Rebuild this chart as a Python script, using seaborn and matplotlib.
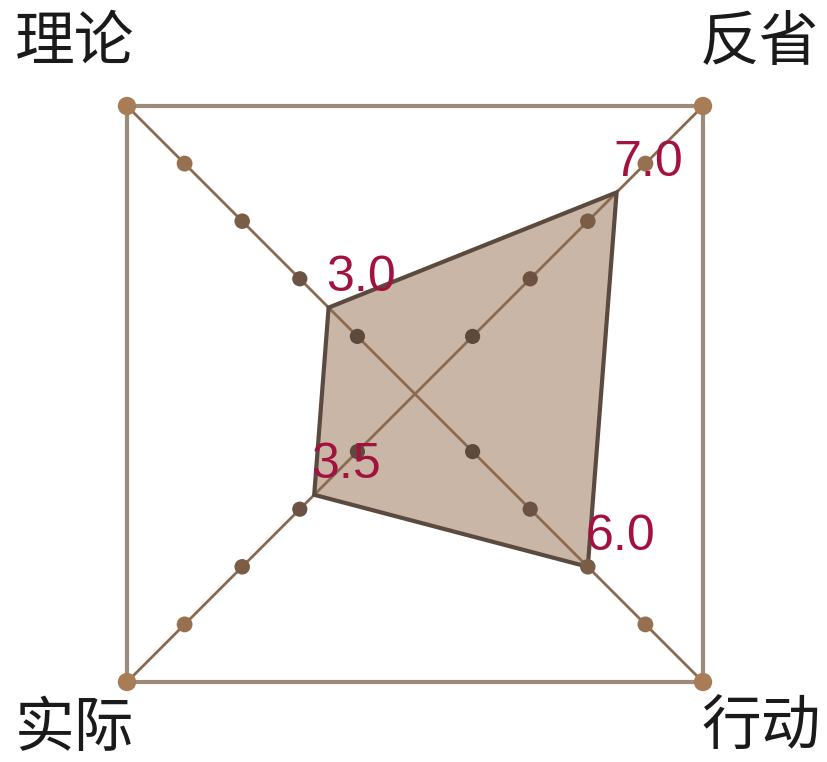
import numpy as np
import pandas as pd
import seaborn as sns
import matplotlib.pyplot as plt

# chart data
categories = ['理论', '反省', '行动', '实际']
values = [3.0, 7.0, 6.0, 3.5]
value_labels = ['3.0', '7.0', '6.0', '3.5']
angles_deg = [135, 45, -45, -135]
tick_levels = [2, 4, 6, 8, 10]

sns.set_theme(style='white')
plt.rcParams['font.family'] = ['Noto Sans CJK SC', 'DejaVu Sans']

theta = np.deg2rad(angles_deg)
max_level = tick_levels[-1]


def to_xy(r, t):
    return r * np.cos(t), r * np.sin(t)


fig = plt.figure(figsize=(8.27, 7.62), dpi=100)
ax = fig.add_axes([0, 0, 1, 1])

# outer square frame
cx, cy = to_xy(max_level, theta)
ax.plot(np.append(cx, cx[0]), np.append(cy, cy[0]), color='#9c8b7b', lw=3, zorder=1,
        solid_capstyle='butt')

# data polygon fill
px, py = to_xy(np.array(values), theta)
ax.fill(px, py, facecolor='#cab6a6', edgecolor='none', zorder=1.5)

# diagonal axes
ax.plot([cx[0], cx[2]], [cy[0], cy[2]], color='#8a6b52', lw=2, zorder=2)
ax.plot([cx[1], cx[3]], [cy[1], cy[3]], color='#8a6b52', lw=2, zorder=2)

# polygon outline
ax.fill(px, py, facecolor='none', edgecolor='#5b4a40', lw=3, zorder=2.5, joinstyle='miter')

# tick dots along each axis
rows = []
for cat, t in zip(categories, theta):
    for lv in tick_levels:
        x, y = to_xy(lv, t)
        rows.append({'category': cat, 'level': lv, 'x': x, 'y': y})
ticks = pd.DataFrame(rows)
palette = {2: '#5d4a3c', 4: '#6b5242', 6: '#7b5d46', 8: '#96704f', 10: '#a87c55'}
sizes = {2: 120, 4: 120, 6: 125, 8: 130, 10: 175}
sns.scatterplot(data=ticks, x='x', y='y', hue='level', size='level', palette=palette,
                sizes=sizes, linewidth=0, legend=False, ax=ax, zorder=3)

# value labels
for x, y, lab in zip(px, py, value_labels):
    ax.annotate(lab, (x, y), xytext=(-2, 12), textcoords='offset points', ha='left',
                va='baseline', fontsize=36, color='#a3123f',
                family=['Liberation Sans', 'DejaVu Sans'], zorder=4)

# category labels at corners
offsets = [(-38, 45), (41, 45), (42, -33), (-38, -34)]
for x, y, cat, off in zip(cx, cy, categories, offsets):
    ax.annotate(cat, (x, y), xytext=off, textcoords='offset points', ha='center',
                va='center', fontsize=43, color='#1a1a1a')

scale = 288 / (max_level / np.sqrt(2))
ax.set_xlim(-415 / scale, (827 - 415) / scale)
ax.set_ylim(-(762 - 394) / scale, 394 / scale)
ax.set_axis_off()

plt.savefig('out.png', dpi=100)
plt.close()
